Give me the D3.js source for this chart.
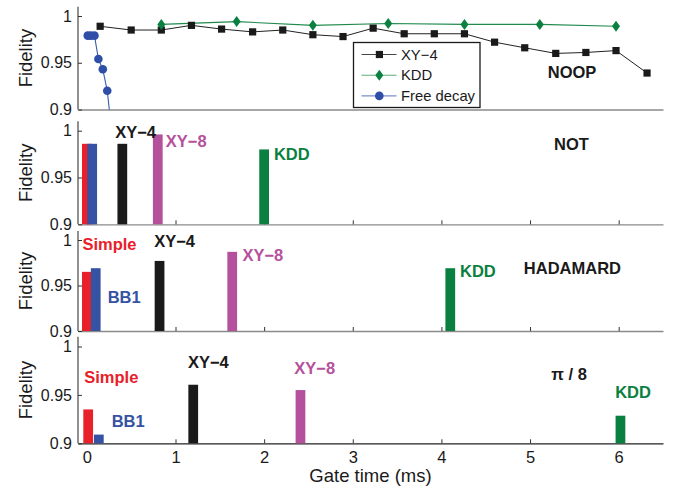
<!DOCTYPE html>
<html>
<head>
<meta charset="utf-8">
<script src="https://cdn.jsdelivr.net/npm/d3@7"></script>
<style>
  body { margin: 0; background: #fff; }
  svg { font-family: "Liberation Sans", Arial, Helvetica, sans-serif; }
</style>
</head>
<body>
<div id="svgcontainer"></div>
<script>
// ---------------- data ----------------
const gate_ticks = [0, 1, 2, 3, 4, 5, 6]
const fid_ticks = [0.9, 0.95, 1]

// NOOP panel (top)
const noop_xy4_time = [0.15, 0.5, 0.84, 1.18, 1.52, 1.87, 2.21, 2.55, 2.89, 3.23, 3.58, 3.92, 4.26, 4.6, 4.94, 5.29, 5.63, 5.97, 6.32]
const noop_xy4_fid = [0.989, 0.985, 0.985, 0.990, 0.986, 0.983, 0.985, 0.980, 0.978, 0.987, 0.981, 0.981, 0.981, 0.972, 0.966, 0.960, 0.961, 0.963, 0.939]
const noop_kdd_time = [0.84, 1.69, 2.55, 3.40, 4.26, 5.11, 5.97]
const noop_kdd_fid = [0.991, 0.994, 0.990, 0.992, 0.991, 0.991, 0.989]
const free_time = [0.01, 0.045, 0.086, 0.13, 0.18, 0.23, 0.3]
const free_fid = [0.979, 0.979, 0.979, 0.954, 0.943, 0.920, 0.86]

// gate panels: one bar per method
const methods = ["Simple", "BB1", "XY\u22124", "XY\u22128", "KDD"]
const method_colors = ["#e8202a", "#3552a3", "#1a1a1a", "#b5519c", "#0a8040"]

const not_time = [0.0, 0.06, 0.40, 0.80, 2.0]
const not_fid = [0.986, 0.986, 0.986, 0.996, 0.980]
const not_show = [false, false, true, true, true]   // which method names are written
const not_lx = [0, 0, 0.32, 0.89, 2.11]
const not_ly = [0, 0, 0.9927, 0.9823, 0.9687]

const had_time = [0.0, 0.1, 0.82, 1.64, 4.10]
const had_fid = [0.965, 0.969, 0.977, 0.987, 0.969]
const had_show = [true, true, true, true, true]
const had_lx = [-0.05, 0.235, 0.76, 1.755, 4.21]
const had_ly = [0.989, 0.9304, 0.9926, 0.9773, 0.9597]

const pi8_time = [0.015, 0.135, 1.20, 2.41, 6.02]
const pi8_fid = [0.935, 0.909, 0.9605, 0.955, 0.9285]
const pi8_show = [true, true, true, true, true]
const pi8_lx = [-0.03, 0.28, 1.14, 2.34, 5.96]
const pi8_ly = [0.962, 0.9165, 0.9775, 0.9716, 0.9471]

// panel titles
const panel_titles = ["NOOP", "NOT", "HADAMARD", "\u03c0 / 8"]
const title_x = [5.2, 5.27, 4.93, 5.24]
const title_y = [0.9334, 0.9794, 0.9623, 0.9654]

// ---------------- layout ----------------
const svg_width = 677, svg_height = 489
const x_left = 78, x_right = 663
// pixel rows of fidelity 0.9 and 1 in each panel
const panel_bottom = [109.5, 224.3, 331, 443.3]
const panel_one = [16, 130.7, 240, 346.5]
const bar_w = 0.11

let svg = d3.select("#svgcontainer")
    .append("svg")
    .attr("width", svg_width)
    .attr("height", svg_height)

let xScale = d3.scaleLinear().domain([-0.1, 6.5]).range([x_left, x_right])

function make_panel(i) {
    let yScale = d3.scaleLinear().domain([0.9, 1]).range([panel_bottom[i], panel_one[i]])
    let g = svg.append("g").attr("class", "panel" + i)
    let last = i == 3

    // bottom axis
    let xa = d3.axisBottom(xScale).tickValues(gate_ticks)
        .tickSizeInner(i == 0 ? 0 : -4).tickSizeOuter(0).tickPadding(last ? 8 : 0)
        .tickFormat(last ? d3.format("d") : "")
    let gx = g.append("g")
        .attr("transform", "translate(0," + yScale(0.9) + ")")
        .call(xa)
    gx.select(".domain").attr("stroke", last ? "#222" : "#8a8a8a").attr("stroke-width", 1.3)
    gx.selectAll(".tick line").attr("stroke", "#333")
    gx.selectAll(".tick text").attr("font-size", 16.5).attr("fill", "#1a1a1a")
        .attr("font-family", "Liberation Sans, Arial, sans-serif")

    // left axis
    let ya = d3.axisLeft(yScale).tickValues(fid_ticks)
        .tickSizeInner(-4).tickSizeOuter(0).tickPadding(6)
        .tickFormat(d => d == 1 ? "1" : String(d))
    let gy = g.append("g")
        .attr("transform", "translate(" + x_left + ",0)")
        .call(ya)
    gy.select(".domain").attr("d", "M0," + yScale(1.01) + "V" + yScale(0.9))
        .attr("stroke", "#555").attr("stroke-width", 1.3)
    gy.selectAll(".tick line").attr("stroke", "#333")
    gy.selectAll(".tick text").attr("font-size", 16).attr("fill", "#1a1a1a")
        .attr("font-family", "Liberation Sans, Arial, sans-serif")

    // Fidelity label
    g.append("text")
        .attr("transform", "translate(32," + ((yScale(1.01) + yScale(0.9)) / 2) + ") rotate(-90)")
        .attr("text-anchor", "middle")
        .attr("font-size", 18.5).attr("fill", "#1a1a1a")
        .text("Fidelity")

    // panel title
    g.append("text")
        .attr("x", xScale(title_x[i])).attr("y", yScale(title_y[i]))
        .attr("font-size", 16.5).attr("font-weight", "bold").attr("fill", "#1a1a1a")
        .text(panel_titles[i])

    return { g: g, y: yScale }
}

// ---------------- top panel: NOOP ----------------
let p0 = make_panel(0)
svg.append("clipPath").attr("id", "clip0")
    .append("rect").attr("x", x_left).attr("y", 0)
    .attr("width", x_right - x_left).attr("height", panel_bottom[0])

let plot0 = p0.g.append("g").attr("clip-path", "url(#clip0)")
let line0 = d3.line().x(d => xScale(d[0])).y(d => p0.y(d[1]))

let free_pts = free_time.map((t, k) => [t, free_fid[k]])
let xy4_pts = noop_xy4_time.map((t, k) => [t, noop_xy4_fid[k]])
let kdd_pts = noop_kdd_time.map((t, k) => [t, noop_kdd_fid[k]])

plot0.append("path").attr("d", line0(kdd_pts)).attr("fill", "none")
    .attr("stroke", "#1f8a4c").attr("stroke-width", 1.1)
plot0.append("path").attr("d", line0(xy4_pts)).attr("fill", "none")
    .attr("stroke", "#222").attr("stroke-width", 1)
plot0.append("path").attr("d", line0(free_pts)).attr("fill", "none")
    .attr("stroke", "#3a5bb0").attr("stroke-width", 1.1)

plot0.selectAll(".sq").data(xy4_pts).enter().append("rect")
    .attr("x", d => xScale(d[0]) - 3.6).attr("y", d => p0.y(d[1]) - 3.6)
    .attr("width", 7.2).attr("height", 7.2).attr("fill", "#1a1a1a")
plot0.selectAll(".dm").data(kdd_pts).enter().append("path")
    .attr("d", d => {
        let cx = xScale(d[0]), cy = p0.y(d[1])
        return "M" + cx + "," + (cy - 5.5) + "L" + (cx + 4) + "," + cy + "L" + cx + "," + (cy + 5.5) + "L" + (cx - 4) + "," + cy + "Z"
    })
    .attr("fill", "#0a8040")
plot0.selectAll(".ci").data(free_pts).enter().append("circle")
    .attr("cx", d => xScale(d[0])).attr("cy", d => p0.y(d[1]))
    .attr("r", 4.3).attr("fill", "#2e4ea8")

// legend
let leg = svg.append("g").attr("transform", "translate(353.5,42.5)")
leg.append("rect").attr("width", 126.5).attr("height", 65)
    .attr("fill", "#fff").attr("stroke", "#1a1a1a").attr("stroke-width", 1.3)
const legend_names = ["XY\u22124", "KDD", "Free decay"]
const legend_line = ["#444", "#5fae7a", "#7a90cc"]
legend_names.forEach((name, k) => {
    let cy = 12 + k * 20.7
    leg.append("line").attr("x1", 8).attr("x2", 43).attr("y1", cy).attr("y2", cy)
        .attr("stroke", legend_line[k]).attr("stroke-width", 1.1)
    if (k == 0) {
        leg.append("rect").attr("x", 22.3).attr("y", cy - 3.6).attr("width", 7.2).attr("height", 7.2).attr("fill", "#1a1a1a")
    } else if (k == 1) {
        leg.append("path").attr("d", "M25.8," + (cy - 5.5) + "L29.8," + cy + "L25.8," + (cy + 5.5) + "L21.8," + cy + "Z").attr("fill", "#0a8040")
    } else {
        leg.append("circle").attr("cx", 25.8).attr("cy", cy).attr("r", 4.3).attr("fill", "#2e4ea8")
    }
    leg.append("text").attr("x", 47.5).attr("y", cy + 5)
        .attr("font-size", 14.8).attr("fill", "#1a1a1a").text(name)
})

// ---------------- gate panels ----------------
function build_barchart(i, times, fids, show, lx, ly) {
    let p = make_panel(i)
    let rows = methods.map((m, k) => ({ m: m, t: times[k], f: fids[k], c: method_colors[k], show: show[k], lx: lx[k], ly: ly[k] }))
    p.g.selectAll(".bar").data(rows).enter().append("rect")
        .attr("x", d => xScale(d.t - bar_w / 2))
        .attr("y", d => p.y(d.f))
        .attr("width", xScale(bar_w) - xScale(0))
        .attr("height", d => p.y(0.9) - p.y(d.f))
        .attr("fill", d => d.c)
    p.g.selectAll(".lab").data(rows.filter(d => d.show)).enter().append("text")
        .attr("x", d => xScale(d.lx)).attr("y", d => p.y(d.ly))
        .attr("font-size", 16.5).attr("font-weight", "bold")
        .attr("fill", d => d.c)
        .text(d => d.m)
}

build_barchart(1, not_time, not_fid, not_show, not_lx, not_ly)
build_barchart(2, had_time, had_fid, had_show, had_lx, had_ly)
build_barchart(3, pi8_time, pi8_fid, pi8_show, pi8_lx, pi8_ly)

// x axis title
svg.append("text")
    .attr("x", (x_left + x_right) / 2).attr("y", 482)
    .attr("text-anchor", "middle").attr("font-size", 18.5).attr("fill", "#1a1a1a")
    .text("Gate time (ms)")
</script>
</body>
</html>
